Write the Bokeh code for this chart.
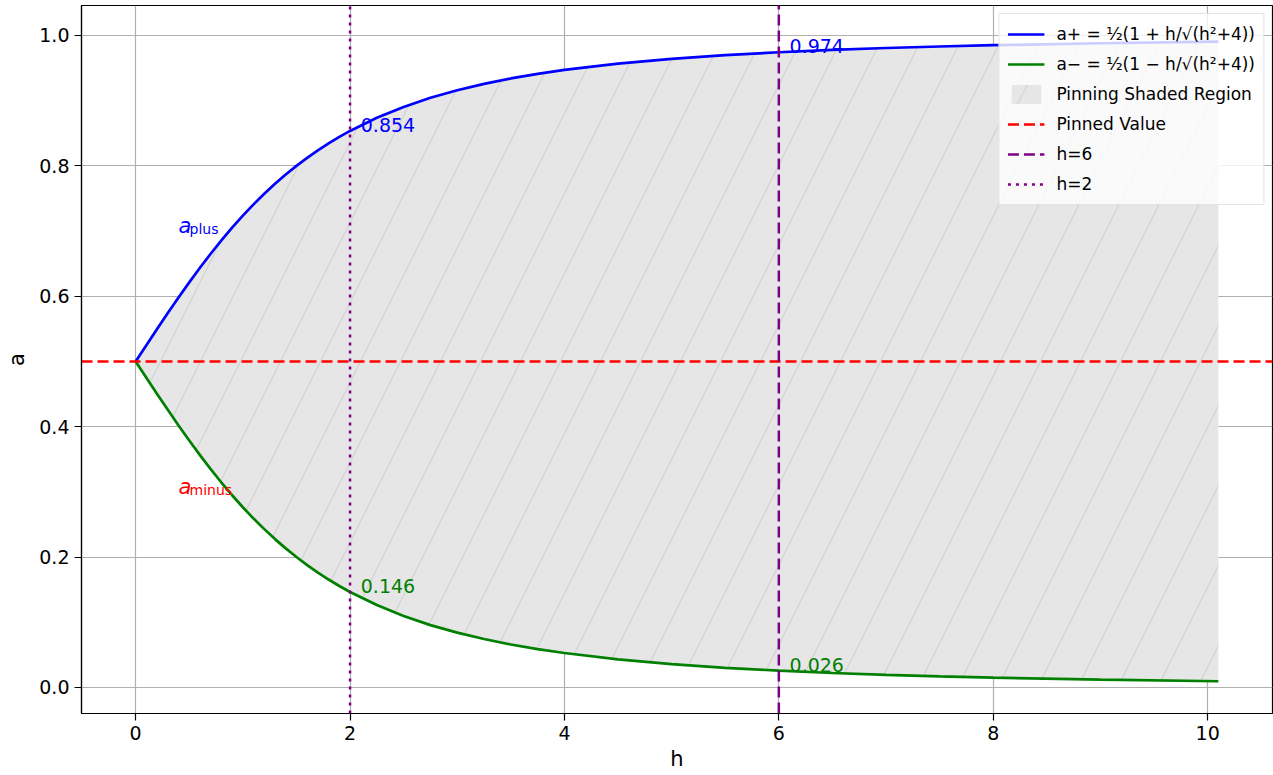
from bokeh.plotting import figure
from bokeh.models import Legend, LegendItem, ColumnDataSource, Range1d, FixedTicker
from bokeh.core.properties import value
from bokeh.embed import file_html
from bokeh.resources import INLINE

# Data
h_vals = [0.0, 0.1, 0.2, 0.3, 0.4, 0.5, 0.6, 0.7, 0.8, 0.9, 1.0, 1.1, 1.2, 1.3, 1.4,
          1.5, 1.6, 1.7, 1.8, 1.9, 2.0, 2.25, 2.5, 2.75, 3.0, 3.25, 3.5, 3.75, 4.0,
          4.5, 5.0, 5.5, 6.0, 6.5, 7.0, 7.5, 8.0, 9.0, 10.1]
a_plus = [0.5, 0.525, 0.5498, 0.5742, 0.5981, 0.6213, 0.6437, 0.6652, 0.6857, 0.7052,
          0.7236, 0.741, 0.7572, 0.7725, 0.7867, 0.8, 0.8123, 0.8238, 0.8345, 0.8444,
          0.8536, 0.8737, 0.8904, 0.9044, 0.916, 0.9258, 0.9341, 0.9412, 0.9472,
          0.9569, 0.9642, 0.9699, 0.9743, 0.9779, 0.9808, 0.9831, 0.9851, 0.9881, 0.9905]
a_minus = [0.5, 0.475, 0.4502, 0.4258, 0.4019, 0.3787, 0.3563, 0.3348, 0.3143, 0.2948,
           0.2764, 0.259, 0.2428, 0.2275, 0.2133, 0.2, 0.1877, 0.1762, 0.1655, 0.1556,
           0.1464, 0.1263, 0.1096, 0.0956, 0.084, 0.0742, 0.0659, 0.0588, 0.0528,
           0.0431, 0.0358, 0.0301, 0.0257, 0.0221, 0.0192, 0.0169, 0.0149, 0.0119, 0.0095]
pinned_value = 0.5
marker_h = [6, 2]
x_ticks = [0, 2, 4, 6, 8, 10]
y_ticks = [0.0, 0.2, 0.4, 0.6, 0.8, 1.0]

X_LO, X_HI = -0.505, 10.605
Y_LO, Y_HI = -0.04, 1.046
FONT = "DejaVu Sans"

p = figure(width=1273, height=775, output_backend="svg", toolbar_location=None,
           x_range=Range1d(X_LO, X_HI), y_range=Range1d(Y_LO, Y_HI))
p.min_border_left = 81
p.min_border_right = 1
p.min_border_top = 5
p.min_border_bottom = 62
p.background_fill_color = "white"
p.border_fill_color = "white"
p.outline_line_color = "black"
p.outline_line_width = 1.2

for ax in (p.xaxis[0], p.yaxis[0]):
    ax.major_label_text_font = FONT
    ax.major_label_text_font_size = "19px"
    ax.major_label_text_color = "black"
    ax.axis_label_text_font = FONT
    ax.axis_label_text_font_size = "21px"
    ax.axis_label_text_font_style = "normal"
    ax.axis_label_text_color = "black"
    ax.major_tick_in = 0
    ax.major_tick_out = 7
    ax.minor_tick_in = 0
    ax.minor_tick_out = 0
    ax.axis_line_color = "black"
    ax.axis_line_width = 1.2
    ax.major_tick_line_width = 1.2
    ax.major_tick_line_color = "black"

p.xaxis.major_label_standoff = 5
p.yaxis.major_label_standoff = 5
p.xaxis.ticker = FixedTicker(ticks=x_ticks)
p.yaxis.ticker = FixedTicker(ticks=y_ticks)
p.xaxis.major_label_overrides = {t: str(t) for t in x_ticks}
p.yaxis.major_label_overrides = {t: f"{t:.1f}" for t in y_ticks}
p.xaxis.axis_label = "h"
p.yaxis.axis_label = "a"
p.xaxis.axis_label_standoff = 4
p.yaxis.axis_label_standoff = 7

p.xgrid.grid_line_color = "#b0b0b0"
p.ygrid.grid_line_color = "#b0b0b0"
p.xgrid.grid_line_width = 1.2
p.ygrid.grid_line_width = 1.2

src = ColumnDataSource(dict(h=h_vals, ap=a_plus, am=a_minus))

shade = p.varea(x="h", y1="am", y2="ap", source=src, fill_color="#e6e6e6",
                fill_alpha=1.0, hatch_pattern="/", hatch_color="#d0d0d0",
                hatch_scale=80, hatch_weight=1.3, hatch_alpha=0.9)

l_plus = p.line("h", "ap", source=src, line_color="blue", line_width=2.7)
l_minus = p.line("h", "am", source=src, line_color="green", line_width=2.7)

d_pin = p.line(x=[X_LO, X_HI], y=[pinned_value, pinned_value], line_color="red",
               line_width=2.5, line_dash="11 5")
d_h6 = p.line(x=[marker_h[0], marker_h[0]], y=[Y_LO, Y_HI], line_color="purple",
              line_width=2.5, line_dash="11 5")
d_h2 = p.line(x=[marker_h[1], marker_h[1]], y=[Y_LO, Y_HI], line_color="purple",
              line_width=2.5, line_dash="3 5")

# value annotations at marker lines
ann_x, ann_y, ann_t, ann_c = [], [], [], []
for hm in marker_h[::-1]:
    i = h_vals.index(float(hm))
    for arr, col in ((a_plus, "blue"), (a_minus, "green")):
        ann_x.append(hm + 0.1)
        ann_y.append(arr[i])
        ann_t.append(f"{arr[i]:.3f}")
        ann_c.append(col)
p.text(x=ann_x, y=ann_y, text=ann_t, text_color=ann_c, text_font=value(FONT),
       text_font_size="19px", text_baseline="alphabetic", y_offset=-6)

# curve name labels
p.text(x=[0.4, 0.4], y=[0.7, 0.3], text=["a", "a"], text_color=["blue", "red"],
       text_font=value(FONT), text_font_size="21px", text_font_style="italic",
       text_baseline="alphabetic", y_offset=-5)
p.text(x=[0.4, 0.4], y=[0.7, 0.3], text=["plus", "minus"], text_color=["blue", "red"],
       text_font=value(FONT), text_font_size="14px", text_baseline="alphabetic",
       x_offset=11, y_offset=-2)

legend = Legend(items=[
    LegendItem(label="a+ = ½(1 + h/√(h²+4))", renderers=[l_plus]),
    LegendItem(label="a− = ½(1 − h/√(h²+4))", renderers=[l_minus]),
    LegendItem(label="Pinning Shaded Region", renderers=[shade]),
    LegendItem(label="Pinned Value", renderers=[d_pin]),
    LegendItem(label="h=6", renderers=[d_h6]),
    LegendItem(label="h=2", renderers=[d_h2]),
], location="top_right")
legend.label_text_font = FONT
legend.label_text_font_size = "17px"
legend.label_text_color = "black"
legend.glyph_width = 37
legend.glyph_height = 24
legend.label_height = 24
legend.spacing = 6
legend.padding = 8
legend.margin = 8
legend.label_standoff = 12
legend.border_line_color = "#cccccc"
legend.border_line_width = 1.2
legend.background_fill_alpha = 0.8
p.add_layout(legend)

open("out.html", "w").write(file_html(p, INLINE))
